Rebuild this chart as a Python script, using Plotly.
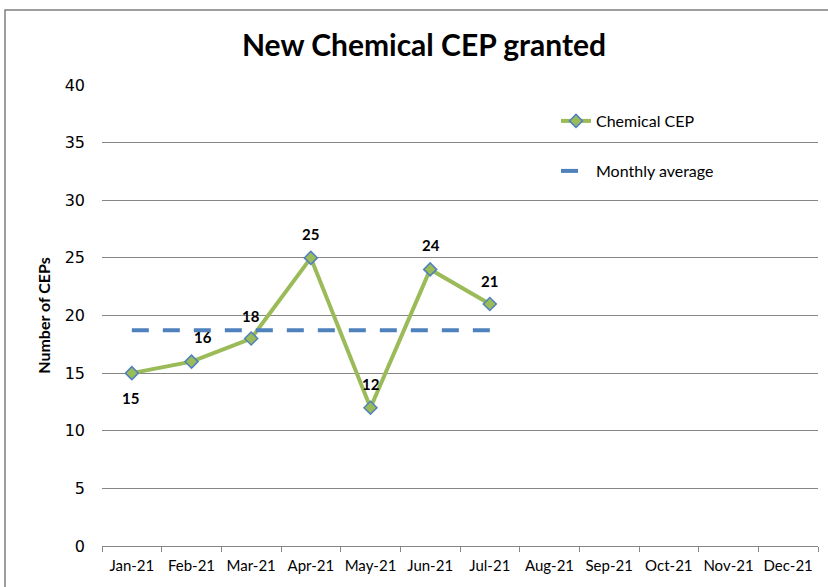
import plotly.graph_objects as go

months = ["Jan-21", "Feb-21", "Mar-21", "Apr-21", "May-21", "Jun-21",
          "Jul-21", "Aug-21", "Sep-21", "Oct-21", "Nov-21", "Dec-21"]
cep_months = months[:7]
cep_values = [15, 16, 18, 25, 12, 24, 21]
monthly_average = sum(cep_values) / len(cep_values)
avg_values = [monthly_average] * len(cep_months)

# label offsets in px (dx, dy)
label_offsets = [(-1, -25), (11, 25), (0, 23), (0, 24), (0, 24), (1, 24), (0, 23)]

W, H = 828, 587
L, R, T, B = 102, 10, 85, 41
PW, PH = W - L - R, H - T - B

def px(x):
    return (x - L) / PW

def py(y):
    return 1 - (y - T) / PH

GREEN = "#9BBB59"
BLUE = "#4F81BD"
GRID = "#868686"
FONT = "Lato, Open Sans, DejaVu Sans"

fig = go.Figure()
fig.add_trace(go.Scatter(
    x=cep_months, y=cep_values, name="Chemical CEP", mode="lines+markers",
    line=dict(color=GREEN, width=4),
    marker=dict(symbol="diamond", size=10, color=GREEN, line=dict(color=BLUE, width=1.5)),
    legend="legend", showlegend=True,
))
fig.add_trace(go.Scatter(
    x=cep_months, y=avg_values, name="Monthly average", mode="lines",
    line=dict(color=BLUE, width=4, dash="17px,14px"),
    legend="legend2", showlegend=True,
))

for m, v, (dx, dy) in zip(cep_months, cep_values, label_offsets):
    fig.add_annotation(x=m, y=v, text=f"<b>{v}</b>", showarrow=False,
                       xshift=dx, yshift=dy,
                       font=dict(family=FONT, size=15, color="black"))

shapes = [
    dict(type="rect", xref="paper", yref="paper", x0=px(528), x1=px(748), y0=py(190), y1=py(100),
         fillcolor="white", line=dict(width=0), layer="between"),
    dict(type="rect", xref="paper", yref="paper", x0=px(5), x1=px(840), y0=py(600), y1=py(10),
         fillcolor="rgba(0,0,0,0)", line=dict(color="#7F7F7F", width=1.5), layer="above"),
]

fig.update_layout(
    width=W, height=H,
    margin=dict(l=L, r=R, t=T, b=B),
    paper_bgcolor="white", plot_bgcolor="white",
    showlegend=True,
    title=dict(text="<b>New Chemical CEP granted</b>", xref="container", x=424 / W, xanchor="center",
               yref="container", y=1 - 45 / H, yanchor="middle",
               font=dict(family=FONT, size=30, color="black")),
    shapes=shapes,
    legend=dict(x=px(556), y=py(121), xanchor="left", yanchor="middle",
                bgcolor="rgba(0,0,0,0)", font=dict(family=FONT, size=16, color="black")),
    legend2=dict(x=px(556), y=py(171), xanchor="left", yanchor="middle",
                 bgcolor="rgba(0,0,0,0)", font=dict(family=FONT, size=16, color="black")),
    xaxis=dict(type="category", categoryorder="array", categoryarray=months,
               range=[-0.5, 11.5], tickmode="array", tickvals=months, ticktext=months,
               tickangle=0, ticklabelstandoff=6,
               tickson="boundaries", ticks="outside", ticklen=5, tickcolor=GRID,
               showline=True, linecolor=GRID, linewidth=1, showgrid=False, automargin=False,
               tickfont=dict(family=FONT, size=15, color="black")),
    yaxis=dict(range=[0, 40], dtick=5, showgrid=True, gridcolor=GRID, gridwidth=1,
               zeroline=False, showline=False, ticks="", ticklen=0, automargin=False,
               ticklabelstandoff=16,
               tickfont=dict(family="DejaVu Sans", size=16, color="black"),
               title=dict(text="<b>Number of CEPs</b>", standoff=10,
                          font=dict(family=FONT, size=16, color="black"))),
)

fig.write_html("out.html", config={"displayModeBar": False})
with open("out.html", "r", encoding="utf-8") as f:
    html = f.read()
html = html.replace("<head>", "<head><style>html,body{margin:0;padding:0;}</style>", 1)
with open("out.html", "w", encoding="utf-8") as f:
    f.write(html)
